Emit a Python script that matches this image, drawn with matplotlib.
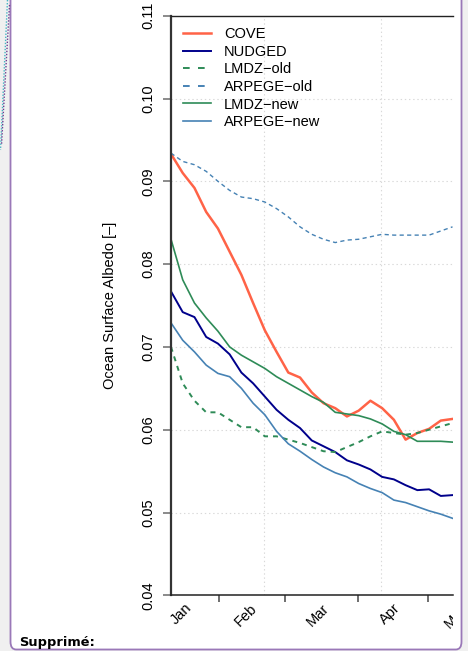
import matplotlib
matplotlib.use('Agg')
import matplotlib.pyplot as plt
from matplotlib.lines import Line2D
from matplotlib.patches import FancyBboxPatch
from matplotlib.transforms import Bbox, TransformedBbox, blended_transform_factory

plt.rcParams['font.family'] = ['Liberation Sans', 'DejaVu Sans']
plt.rcParams['lines.scale_dashes'] = False

# pentad centres, day of year (Jan 1 = 0)
days = [10.5, 15.5, 20.5, 25.5, 30.5, 35.5, 40.5, 45.5, 50.5, 55.5, 60.5, 65.5, 70.5,
        75.5, 80.5, 85.5, 90.5, 95.5, 100.5, 105.5, 110.5, 115.5, 120.5, 125.5, 130.5]

cove = [0.0933, 0.0910, 0.0892, 0.0863, 0.0843, 0.0815, 0.0787, 0.0753, 0.0720, 0.0694,
        0.0669, 0.0663, 0.0645, 0.0632, 0.0626, 0.0616, 0.0623, 0.0635, 0.0626, 0.0612,
        0.0588, 0.0596, 0.0601, 0.0611, 0.0613]
nudged = [0.0767, 0.0742, 0.0736, 0.0712, 0.0704, 0.0691, 0.0669, 0.0656, 0.0640, 0.0624,
          0.0612, 0.0602, 0.0587, 0.0580, 0.0573, 0.0563, 0.0558, 0.0552, 0.0543, 0.0540,
          0.0533, 0.0527, 0.0528, 0.0520, 0.0521]
lmdz_old = [0.0700, 0.0656, 0.0635, 0.0621, 0.0621, 0.0612, 0.0603, 0.0603, 0.0592, 0.0592,
            0.0588, 0.0584, 0.0579, 0.0574, 0.0573, 0.0579, 0.0585, 0.0592, 0.0598, 0.0596,
            0.0594, 0.0596, 0.0600, 0.0604, 0.0608]
arpege_old = [0.0934, 0.0924, 0.0920, 0.0912, 0.0900, 0.0889, 0.0881, 0.0879, 0.0875, 0.0867,
              0.0857, 0.0845, 0.0836, 0.0830, 0.0826, 0.0829, 0.0830, 0.0833, 0.0836, 0.0835,
              0.0835, 0.0835, 0.0835, 0.0840, 0.0845]
lmdz_new = [0.0830, 0.0781, 0.0753, 0.0735, 0.0719, 0.0700, 0.0690, 0.0682, 0.0674, 0.0664,
            0.0656, 0.0648, 0.0640, 0.0633, 0.0621, 0.0619, 0.0617, 0.0613, 0.0607, 0.0598,
            0.0594, 0.0586, 0.0586, 0.0586, 0.0585]
arpege_new = [0.0729, 0.0708, 0.0694, 0.0678, 0.0668, 0.0664, 0.0650, 0.0632, 0.0618, 0.0598,
              0.0583, 0.0574, 0.0564, 0.0555, 0.0548, 0.0543, 0.0535, 0.0529, 0.0524, 0.0515,
              0.0512, 0.0507, 0.0502, 0.0498, 0.0493]

month_starts = [31, 59, 90, 120]
month_names = ['Jan', 'Feb', 'Mar', 'Apr', 'May']
month_label_days = [18.5, 46, 77, 107.5, 136.5]
yticks = [0.04, 0.05, 0.06, 0.07, 0.08, 0.09, 0.10, 0.11]

c_cove = '#FF6347'
c_nudged = '#00008B'
c_lmdz = '#2E8B57'
c_arpege = '#4682B4'

W, H = 468, 651
fig = plt.figure(figsize=(W / 100, H / 100), dpi=100, facecolor='#f0f0f0')

# comment balloon frame
box = FancyBboxPatch((10.5 / W, 1.5 / H), 451 / W, 660 / H,
                     boxstyle='round,pad=0,rounding_size=0.012',
                     transform=fig.transFigure, facecolor='white',
                     edgecolor='#9a78b8', linewidth=1.3, zorder=-10)
fig.patches.append(box)
fig.lines.append(Line2D([7.5 / W, 0.5 / W], [1, 1 - 150 / H], transform=fig.transFigure,
                        color='#45b3c4', lw=1, ls=(0, (1, 1.2)), zorder=-5))
fig.lines.append(Line2D([9.5 / W, 1.5 / W], [1 - 5 / H, 1 - 145 / H], transform=fig.transFigure,
                        color='#6a3d8f', lw=1, ls=(0, (1, 1.2)), zorder=-5))

ax = fig.add_axes([171 / W, 1 - 595.3 / H, 282 / W, 579.6 / H])
ax.set_xlim(10.5, 130.7)
ax.set_ylim(0.04, 0.11)

for g in yticks[1:-1]:
    ax.axhline(g, color='#d9d9d9', lw=0.8, ls=(0, (1, 2)), zorder=0)
for g in [50, 100]:
    ax.axvline(g, color='#d9d9d9', lw=0.8, ls=(0, (1, 2)), zorder=0)

ax.plot(days, cove, color=c_cove, lw=1.8)
ax.plot(days, nudged, color=c_nudged, lw=1.4)
ax.plot(days, lmdz_old, color=c_lmdz, lw=1.4, ls=(0, (3.6, 3.6)))
ax.plot(days, arpege_old, color=c_arpege, lw=1.0, ls=(0, (3.0, 2.4)))
ax.plot(days, lmdz_new, color=c_lmdz, lw=1.2)
ax.plot(days, arpege_new, color=c_arpege, lw=1.2)

ax.spines['right'].set_visible(False)
ax.spines['left'].set_color('#333333')
ax.spines['left'].set_linewidth(1.6)
ax.spines['top'].set_color('#222222')
ax.spines['top'].set_linewidth(1.0)
ax.spines['bottom'].set_color('#222222')
ax.spines['bottom'].set_linewidth(1.1)

ax.set_yticks(yticks)
ax.set_yticklabels(['%.2f' % v for v in yticks])
ax.tick_params(axis='y', length=6, width=1.2, color='#777777', pad=5, labelsize=10.5,
               labelrotation=90)
for lab in ax.get_yticklabels():
    lab.set_va('center')
ax.set_xticks(month_starts)
ax.set_xticklabels([])
ax.tick_params(axis='x', length=5, width=1.2, color='#555555')

# month names, rotated 45 degrees; the last one is cut by the figure crop
trans = blended_transform_factory(ax.transData, fig.transFigure)
clip = TransformedBbox(Bbox.from_extents(0, 0, 453 / W, 1), fig.transFigure)
for d, name in zip(month_label_days, month_names):
    t = fig.text(d, 1 - 606 / H, name, transform=trans, rotation=45, ha='right', va='center',
                 rotation_mode='anchor', fontsize=10.5)
    t.set_clip_box(clip)
    t.set_clip_on(True)

fig.text(110 / W, 1 - 305 / H, 'Ocean Surface Albedo [\u2013]', rotation=90,
         ha='center', va='center', fontsize=10.5)

handles = [
    Line2D([], [], color=c_cove, lw=1.8),
    Line2D([], [], color=c_nudged, lw=1.4),
    Line2D([], [], color=c_lmdz, lw=1.4, ls=(0, (4.8, 6.0))),
    Line2D([], [], color=c_arpege, lw=1.4, ls=(0, (4.8, 6.0))),
    Line2D([], [], color=c_lmdz, lw=1.2),
    Line2D([], [], color=c_arpege, lw=1.2),
]
labels = ['COVE', 'NUDGED', 'LMDZ\u2212old', 'ARPEGE\u2212old', 'LMDZ\u2212new', 'ARPEGE\u2212new']
fig.legend(handles, labels, loc='upper left', bbox_to_anchor=(183 / W, 1 - 27 / H),
           bbox_transform=fig.transFigure, frameon=False, fontsize=10.5,
           handlelength=1.9, handletextpad=0.9, labelspacing=0.25,
           borderpad=0, borderaxespad=0)

fig.text(19 / W, 1 - 646 / H, 'Supprimé:', family='DejaVu Sans', fontweight='bold',
         fontsize=9.4, ha='left', va='baseline')

fig.savefig('out.png', dpi=100, facecolor=fig.get_facecolor())
